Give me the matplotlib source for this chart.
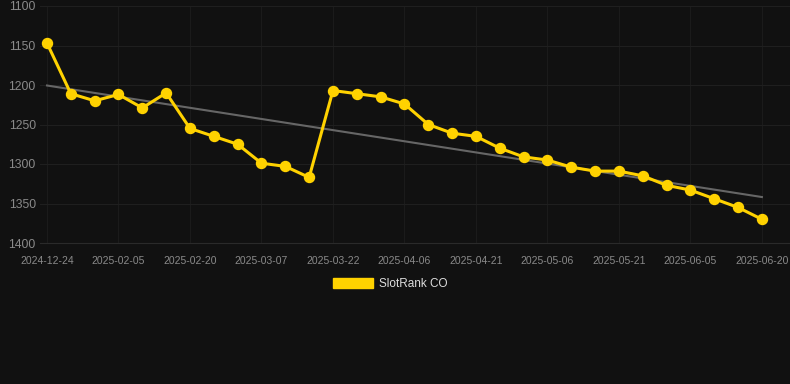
import numpy as np
import matplotlib
matplotlib.use("Agg")
import matplotlib.pyplot as plt
from matplotlib.patches import Patch

plt.rcParams["font.family"] = ["Liberation Sans", "DejaVu Sans"]

dates = ["2024-12-24", "2025-01-26", "2025-01-31", "2025-02-05", "2025-02-10", "2025-02-15",
         "2025-02-20", "2025-02-25", "2025-03-02", "2025-03-07", "2025-03-12", "2025-03-17",
         "2025-03-22", "2025-03-27", "2025-04-01", "2025-04-06", "2025-04-11", "2025-04-16",
         "2025-04-21", "2025-04-26", "2025-05-01", "2025-05-06", "2025-05-11", "2025-05-16",
         "2025-05-21", "2025-05-26", "2025-05-31", "2025-06-05", "2025-06-10", "2025-06-15",
         "2025-06-20"]
ranks = [1147, 1211, 1220, 1212, 1229, 1210, 1255, 1265, 1275, 1299, 1303, 1317,
         1207, 1211, 1215, 1224, 1250, 1261, 1265, 1280, 1291, 1295, 1304, 1309,
         1309, 1315, 1327, 1333, 1344, 1355, 1370]
series_name = "SlotRank CO"
yticks = [1100, 1150, 1200, 1250, 1300, 1350, 1400]

BG = "#111111"
YELLOW = "#FFD200"

fig = plt.figure(figsize=(7.9, 3.84), dpi=100, facecolor=BG)
ax = fig.add_axes([40/790, 1-243/384, 750/790, 237/384], facecolor=BG)

x = np.arange(len(dates))
ax.plot(x, ranks, color=YELLOW, lw=2.2, marker="o", ms=7.2, zorder=3)

coef = np.polyfit(x, ranks, 1)
ax.plot(x, np.polyval(coef, x), color="#666666", lw=1.5, zorder=2)

ax.set_ylim(1400, 1100)
ax.set_yticks(yticks)
ax.set_xlim(-7/23.83, (790-47)/23.83)
ax.set_xticks(x[::3])
ax.set_xticklabels(dates[::3])

ax.grid(True, axis="x", color="#1b1b1b", lw=0.8)
ax.grid(True, axis="y", color="#1f1f1f", lw=0.8)
ax.set_axisbelow(True)
for s in ax.spines.values():
    s.set_visible(False)
ax.spines["bottom"].set_visible(True)
ax.spines["bottom"].set_color("#2a2a2a")
ax.spines["bottom"].set_linewidth(0.8)
ax.tick_params(axis="y", length=0, labelsize=8.7, labelcolor="#8a8a8a", pad=3)
ax.tick_params(axis="x", length=0, labelsize=7.5, labelcolor="#8a8a8a", pad=9)

handle = Patch(facecolor=YELLOW, edgecolor=YELLOW)
fig.legend([handle], [series_name], loc="center", bbox_to_anchor=(0.494, 1-284/384),
           frameon=False, fontsize=8.5, labelcolor="#dddddd",
           handlelength=3.4, handleheight=0.95, handletextpad=0.5)

fig.savefig("out.png", dpi=100, facecolor=BG)
